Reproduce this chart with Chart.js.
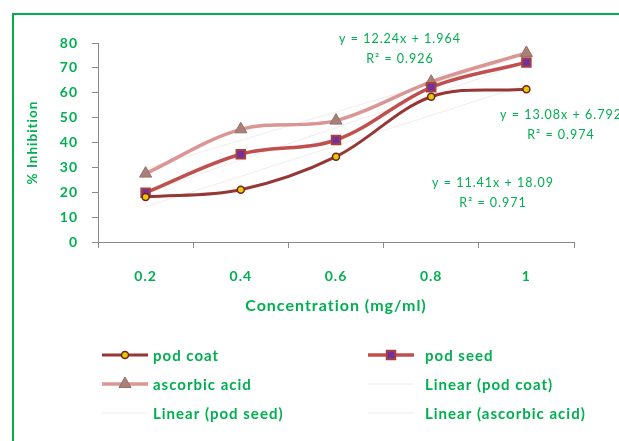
<!DOCTYPE html>
<html>
<head>
<meta charset="utf-8">
<script src="https://cdn.jsdelivr.net/npm/chart.js@4/dist/chart.umd.min.js"></script>
<style>
  html, body { margin: 0; padding: 0; background: #fff; }
  #wrap { position: relative; width: 619px; height: 441px; }
</style>
</head>
<body>
<div id="wrap"><canvas id="chart"></canvas></div>
<script>
// values
const concentrations = ['0.2', '0.4', '0.6', '0.8', '1'];
const podCoat = [18.1, 21.0, 34.3, 58.4, 61.4];
const podSeed = [19.8, 35.3, 41.0, 62.2, 72.2];
const ascorbicAcid = [27.5, 45.3, 48.8, 64.4, 76.0];

// trendline values taken from the printed equations
const podCoatTrend = [14.2, 26.4, 38.7, 50.9, 63.2];
const podSeedTrend = [19.9, 33.0, 46.0, 59.1, 72.2];
const ascorbicTrend = [29.5, 40.9, 52.3, 63.7, 75.1];

const yTicks = [0, 10, 20, 30, 40, 50, 60, 70, 80];

const equations = [
  { lines: ['y = 12.24x + 1.964', 'R\u00b2 = 0.926'], x: 400, y: 39 },
  { lines: ['y = 13.08x + 6.792', 'R\u00b2 = 0.974'], x: 561, y: 115 },
  { lines: ['y = 11.41x + 18.09', 'R\u00b2 = 0.971'], x: 493, y: 183 }
];

const GREEN = '#00B050';
const AXIS = '#8a8a8a';
const FONT = 'Lato, "Open Sans", sans-serif';

const trendColor = 'rgba(215, 190, 190, 0.3)';

// green frame, equations and a two-column legend
const extras = {
  id: 'extras',
  beforeDraw(chart) {
    const ctx = chart.ctx;
    ctx.save();
    ctx.strokeStyle = GREEN;
    ctx.lineWidth = 2;
    ctx.strokeRect(13, 14, 700, 500);
    ctx.restore();
    // the reference text is set rather loose
    ctx.letterSpacing = '1px';
  },
  afterDraw(chart) {
    const ctx = chart.ctx;
    ctx.save();
    ctx.letterSpacing = '1px';
    ctx.fillStyle = GREEN;
    ctx.textAlign = 'center';
    ctx.textBaseline = 'middle';
    ctx.font = '12.5px ' + FONT;
    equations.forEach(eq => {
      eq.lines.forEach((t, i) => ctx.fillText(t, eq.x, eq.y + i * 20));
    });

    // legend
    const colSample = [102, 368];
    const colText = [153, 425];
    chart.data.datasets.forEach((ds, i) => {
      const col = i % 2, row = Math.floor(i / 2);
      const y = 355 + row * 29;
      const x0 = colSample[col];
      ctx.strokeStyle = ds.borderColor;
      ctx.lineWidth = ds.borderWidth;
      ctx.beginPath();
      ctx.moveTo(x0, y);
      ctx.lineTo(x0 + 46, y);
      ctx.stroke();
      if (ds.pointRadius > 0 && Chart.helpers && Chart.helpers.drawPoint) {
        ctx.fillStyle = ds.pointBackgroundColor;
        ctx.strokeStyle = ds.pointBorderColor;
        ctx.lineWidth = ds.pointBorderWidth;
        Chart.helpers.drawPoint(ctx, {
          pointStyle: ds.pointStyle,
          radius: ds.pointRadius,
          rotation: 0,
          borderWidth: ds.pointBorderWidth
        }, x0 + 23, y);
      }
      ctx.fillStyle = GREEN;
      ctx.textAlign = 'left';
      ctx.font = 'bold 15px ' + FONT;
      ctx.fillText(ds.label, colText[col], y + 1);
    });
    ctx.restore();
  }
};

new Chart(document.getElementById('chart'), {
  type: 'line',
  data: {
    labels: concentrations,
    datasets: [
      {
        label: 'pod coat',
        data: podCoat,
        borderColor: '#953735',
        borderWidth: 3,
        tension: 0.35,
        pointStyle: 'circle',
        pointRadius: 3.5,
        pointBackgroundColor: '#E8C800',
        pointBorderColor: '#6e2422',
        pointBorderWidth: 1.5
      },
      {
        label: 'pod seed',
        data: podSeed,
        borderColor: '#C0504D',
        borderWidth: 3.5,
        tension: 0.35,
        pointStyle: 'rect',
        pointRadius: 6,
        pointBackgroundColor: '#7030A0',
        pointBorderColor: '#A8403E',
        pointBorderWidth: 2
      },
      {
        label: 'ascorbic acid',
        data: ascorbicAcid,
        borderColor: '#D99694',
        borderWidth: 3.5,
        tension: 0.35,
        pointStyle: 'triangle',
        pointRadius: 7,
        pointBackgroundColor: '#A8807A',
        pointBorderColor: '#957068',
        pointBorderWidth: 1
      },
      {
        label: 'Linear (pod coat)',
        data: podCoatTrend,
        borderColor: trendColor,
        borderWidth: 1,
        pointRadius: 0,
        tension: 0
      },
      {
        label: 'Linear (pod seed)',
        data: podSeedTrend,
        borderColor: trendColor,
        borderWidth: 1,
        pointRadius: 0,
        tension: 0
      },
      {
        label: 'Linear (ascorbic acid)',
        data: ascorbicTrend,
        borderColor: trendColor,
        borderWidth: 1,
        pointRadius: 0,
        tension: 0
      }
    ]
  },
  options: {
    responsive: true,
    maintainAspectRatio: false,
    animation: false,
    layout: { padding: { left: 25, top: 43, right: 45, bottom: 126 } },
    plugins: {
      legend: { display: false },
      tooltip: { enabled: false }
    },
    scales: {
      x: {
        offset: true,
        afterFit: s => { s.height = 73; },
        grid: { drawOnChartArea: false, offset: true, tickLength: 6, color: AXIS },
        border: { color: AXIS, width: 1 },
        ticks: { color: GREEN, padding: 20, font: { family: FONT, size: 14, weight: 'bold' } },
        title: {
          display: true,
          text: 'Concentration (mg/ml)',
          color: GREEN,
          padding: 0,
          font: { family: FONT, size: 16, weight: 'bold' }
        }
      },
      y: {
        min: 0,
        max: 80,
        afterFit: s => { s.width = 73; },
        afterBuildTicks: s => { s.ticks = yTicks.map(v => ({ value: v })); },
        grid: { drawOnChartArea: false, tickLength: 6, color: AXIS },
        border: { color: AXIS, width: 1 },
        ticks: { color: GREEN, padding: 14, font: { family: FONT, size: 14, weight: 'bold' } },
        title: {
          display: true,
          text: '% Inhibition',
          color: GREEN,
          padding: 0,
          font: { family: FONT, size: 13.5, weight: 'bold' }
        }
      }
    }
  },
  plugins: [extras]
});
</script>
</body>
</html>
